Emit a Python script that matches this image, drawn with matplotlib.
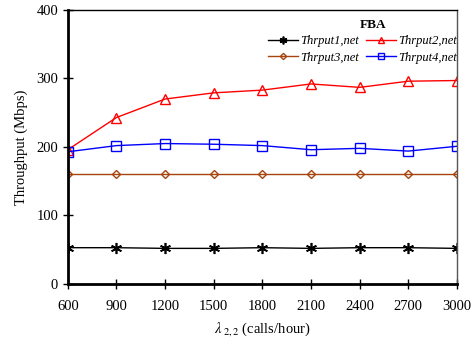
import matplotlib
matplotlib.use("Agg")
import matplotlib.pyplot as plt

# arrival rate lambda_2,2 (calls/hour)
rates = [600, 900, 1200, 1500, 1800, 2100, 2400, 2700, 3000]

thr1 = [53, 53, 52, 52, 53, 52, 53, 53, 52]
thr2 = [196, 243, 270, 279, 283, 292, 287, 296, 297]
thr3 = [160, 160, 160, 160, 160, 160, 160, 160, 160]
thr4 = [193, 202, 205, 204, 202, 196, 198, 194, 201]

plt.rcParams["font.family"] = ["Liberation Serif", "DejaVu Serif"]
plt.rcParams["mathtext.fontset"] = "stix"

fig = plt.figure(figsize=(4.71, 3.43), dpi=100)
ax = fig.add_axes([0.144, 0.172, 0.826, 0.799])

# six-armed asterisk marker
l1, = ax.plot(rates, thr1, color="black", lw=1, marker=(6, 2, 0), ms=8,
              mew=1.2, label="Thrput1,net")
l2, = ax.plot(rates, thr2, color="red", lw=1, marker="^", ms=7, mfc="none",
              mew=1, label="Thrput2,net")
l3, = ax.plot(rates, thr3, color="#a8440f", lw=1, marker="D", ms=4.5,
              mfc="none", mew=1, label="Thrput3,net")
l4, = ax.plot(rates, thr4, color="blue", lw=1, marker="s", ms=6.5, mfc="none",
              mew=1, label="Thrput4,net")

ax.set_xlim(600, 3000)
ax.set_ylim(0, 400)
ax.set_xticks(rates)
ax.set_yticks([0, 100, 200, 300, 400])
ax.tick_params(direction="inout", length=7, width=1, labelsize=10.5)
ax.tick_params(axis="x", pad=8)

ax.spines["left"].set_linewidth(2)
ax.spines["bottom"].set_linewidth(2)
ax.spines["top"].set_linewidth(1)
ax.spines["right"].set_linewidth(1)
ax.spines["right"].set_color("#555555")

ax.set_ylabel("Throughput (Mbps)", fontsize=10.5, labelpad=6)
ax.set_xlabel(r"$\lambda_{\ 2,2}$ (calls/hour)", fontsize=10.5, labelpad=5)

# legend order so rows read 1,2 / 3,4
leg = ax.legend([l1, l3, l2, l4], [l.get_label() for l in (l1, l3, l2, l4)],
                loc="upper right", bbox_to_anchor=(1.0, 0.907), ncol=2,
                frameon=False, prop={"style": "italic", "size": 9},
                handlelength=2.4, columnspacing=0.5, handletextpad=0.2,
                borderaxespad=0.0, borderpad=0.0, labelspacing=0.35,
                markerscale=0.7)
ax.text(0.785, 0.945, "FBA", transform=ax.transAxes, ha="center",
        va="center", fontsize=9.5, fontweight="bold")

fig.savefig("out.png", dpi=100)
